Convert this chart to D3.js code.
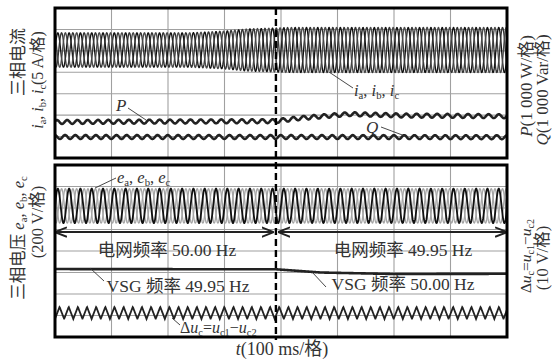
<!DOCTYPE html>
<html>
<head>
<meta charset="utf-8">
<script src="https://cdn.jsdelivr.net/npm/d3@7/dist/d3.min.js"></script>
<style>
  body { margin: 0; background: #fff; }
  text { font-family: "Liberation Serif", "Noto Sans CJK SC", serif; fill: #333; }
</style>
</head>
<body>
<svg id="chart" width="554" height="363"></svg>
<script>
// time axis: 8 divisions of 100 ms
const timeTicks = [0, 100, 200, 300, 400, 500, 600, 700, 800];
const eventTime = 391;          // grid frequency step (dashed line)
const topDivs = 7, botDivs = 8;

// envelopes, [t (ms), value in divisions]
const currentCenter = 5.04;
const currentAmp = [[0, 0.8], [240, 0.8], [300, 0.88], [340, 0.98], [420, 1.05], [800, 1.05]];
const pLevel = [[0, 1.68], [391, 1.72], [430, 1.85], [520, 2.05], [620, 1.98], [800, 1.95]];
const qLevel = [[0, 0.98], [391, 0.98], [800, 0.97]];
const ripple = 0.09;
const voltCenter = 6.1, voltAmp = 0.8;
const gridFreq = [[0, 50.00], [391, 49.95], [800, 49.95]];
const vsgFreq = [49.95, 50.00];
const vsgLevel = [[0, 3.16], [391, 3.15], [470, 3.0], [600, 2.93], [800, 2.94]];
const duCenter = 1.12, duAmp = 0.28, duPeriod = 16.2;

const svg = d3.select("#chart");
const x = d3.scaleLinear().domain([0, 800]).range([55, 507]);
const yTop = d3.scaleLinear().domain([0, topDivs]).range([158, 8]);
const yBot = d3.scaleLinear().domain([0, botDivs]).range([337, 165]);

function interp(env, t) {
  for (let i = 1; i < env.length; i++) {
    if (t <= env[i][0]) {
      const a = env[i - 1], b = env[i];
      return a[1] + (b[1] - a[1]) * (t - a[0]) / (b[0] - a[0]);
    }
  }
  return env[env.length - 1][1];
}
const times = d3.range(0, 800.01, 0.4);

// phase accumulated from the frequency table
function phaseAt(t) {
  let ph = 0, last = 0;
  for (let i = 1; i < gridFreq.length && last < t; i++) {
    const end = Math.min(t, gridFreq[i][0]);
    ph += 2 * Math.PI * gridFreq[i - 1][1] * (end - last) / 1000;
    last = end;
  }
  return ph;
}

const defs = svg.append("defs");
defs.append("clipPath").attr("id", "clipTop")
  .append("rect").attr("x", 55).attr("y", 8).attr("width", 452).attr("height", 150);
defs.append("clipPath").attr("id", "clipBot")
  .append("rect").attr("x", 55).attr("y", 165).attr("width", 452).attr("height", 172);
defs.append("marker").attr("id", "arr")
  .attr("viewBox", "0 0 10 10").attr("refX", 9).attr("refY", 5)
  .attr("markerWidth", 6).attr("markerHeight", 6).attr("orient", "auto-start-reverse")
  .append("path").attr("d", "M0,1L10,5L0,9").attr("fill", "none").attr("stroke", "#222").attr("stroke-width", 1.6);

// grid
function grid(y, divs) {
  const g = svg.append("g").attr("stroke", "#a0a0a0").attr("stroke-width", 1.1);
  g.selectAll(".v").data(timeTicks.slice(1, -1)).enter().append("line")
    .attr("x1", d => x(d)).attr("x2", d => x(d)).attr("y1", y(0)).attr("y2", y(divs));
  g.selectAll(".h").data(d3.range(1, divs)).enter().append("line")
    .attr("x1", x(0)).attr("x2", x(800)).attr("y1", d => y(d)).attr("y2", d => y(d));
}
grid(yTop, topDivs);
grid(yBot, botDivs);

// top panel traces
const gTop = svg.append("g").attr("clip-path", "url(#clipTop)").attr("fill", "none");
const phases = [0, -2 * Math.PI / 3, 2 * Math.PI / 3];
const curColors = ["#111", "#333", "#4a4a4a"];
phases.forEach((p, i) => {
  gTop.append("path")
    .attr("d", d3.line().x(t => x(t))
      .y(t => yTop(currentCenter + interp(currentAmp, t) * Math.sin(phaseAt(t) + p)))(times))
    .attr("stroke", curColors[i]).attr("stroke-width", 1.35);
});
[[pLevel, 0.4], [qLevel, 1.7]].forEach(([lev, off]) => {
  gTop.append("path")
    .attr("d", d3.line().x(t => x(t))
      .y(t => yTop(interp(lev, t) + ripple * Math.sin(phaseAt(t) * 1.1 + off)))(times))
    .attr("stroke", "#222").attr("stroke-width", 2.6);
});

// bottom panel traces
const gBot = svg.append("g").attr("clip-path", "url(#clipBot)").attr("fill", "none");
[1, 2, 0].forEach(i => {
  gBot.append("path")
    .attr("d", d3.line().x(t => x(t))
      .y(t => yBot(voltCenter + voltAmp * Math.sin(phaseAt(t) + phases[i])))(times))
    .attr("stroke", i === 0 ? "#111" : "#a5a5a5").attr("stroke-width", i === 0 ? 1.8 : 1.3);
});
gBot.append("path")
  .attr("d", d3.line().x(t => x(t)).y(t => yBot(interp(vsgLevel, t)))(times))
  .attr("stroke", "#222").attr("stroke-width", 2.6);
gBot.append("path")
  .attr("d", d3.line().x(t => x(t))
    .y(t => { const f = (t / duPeriod) % 1; return yBot(duCenter + duAmp * (f < 0.5 ? 4 * f - 1 : 3 - 4 * f)); })(times))
  .attr("stroke", "#222").attr("stroke-width", 1.8);

// double arrows for grid frequency spans
const arrowY = yBot(4.88);
[[2, eventTime - 6], [eventTime + 6, 798]].forEach(([a, b]) => {
  svg.append("line").attr("x1", x(a)).attr("x2", x(b)).attr("y1", arrowY).attr("y2", arrowY)
    .attr("stroke", "#222").attr("stroke-width", 2)
    .attr("marker-start", "url(#arr)").attr("marker-end", "url(#arr)");
});

// panel borders
[[yTop, topDivs], [yBot, botDivs]].forEach(([y, d]) => {
  svg.append("rect").attr("x", x(0)).attr("y", y(d)).attr("width", x(800) - x(0))
    .attr("height", y(0) - y(d)).attr("fill", "none").attr("stroke", "#000").attr("stroke-width", 3);
});

// event line
svg.append("line").attr("x1", x(eventTime)).attr("x2", x(eventTime)).attr("y1", 8).attr("y2", 340)
  .attr("stroke", "#000").attr("stroke-width", 2.4).attr("stroke-dasharray", "7,4");

// helpers for labels with sub-scripts
function rich(sel, parts) {
  parts.forEach(p => {
    const ts = sel.append("tspan").text(p[0]);
    if (p[1] === "i") ts.attr("font-style", "italic");
    if (p[1] === "s") ts.attr("font-size", "0.65em").attr("baseline-shift", "-25%");
  });
  return sel;
}
function leader(x1, y1, x2, y2) {
  svg.append("line").attr("x1", x1).attr("y1", y1).attr("x2", x2).attr("y2", y2)
    .attr("stroke", "#333").attr("stroke-width", 0.9);
}
const eParts = [["e", "i"], ["a", "s"], [", "], ["e", "i"], ["b", "s"], [", "], ["e", "i"], ["c", "s"]];
const iParts = [["i", "i"], ["a", "s"], [", "], ["i", "i"], ["b", "s"], [", "], ["i", "i"], ["c", "s"]];
const duParts = [["Δ"], ["u", "i"], ["c", "s"], ["="], ["u", "i"], ["c1", "s"], ["−"], ["u", "i"], ["c2", "s"]];

// annotations in panels
leader(95, 188, 116, 178);
rich(svg.append("text").attr("x", 117).attr("y", 183).attr("font-size", 16.5), eParts);
leader(329, 72, 353, 88);
rich(svg.append("text").attr("x", 354).attr("y", 96).attr("font-size", 16.5), iParts);
leader(128, 108, 146, 120);
svg.append("text").attr("x", 116).attr("y", 111).attr("font-size", 17).attr("font-style", "italic").text("P");
leader(381, 127, 405, 136);
svg.append("text").attr("x", 366).attr("y", 133).attr("font-size", 17).attr("font-style", "italic").text("Q");

svg.append("text").attr("x", 167).attr("y", 256).attr("font-size", 17.5).attr("text-anchor", "middle")
  .text(`电网频率 ${gridFreq[0][1].toFixed(2)} Hz`);
svg.append("text").attr("x", 403).attr("y", 256).attr("font-size", 17.5).attr("text-anchor", "middle")
  .text(`电网频率 ${gridFreq[1][1].toFixed(2)} Hz`);
leader(90, 268, 104, 281);
svg.append("text").attr("x", 178).attr("y", 292).attr("font-size", 17.5).attr("text-anchor", "middle")
  .text(`VSG 频率 ${vsgFreq[0].toFixed(2)} Hz`);
leader(312, 272, 326, 287);
svg.append("text").attr("x", 403).attr("y", 290).attr("font-size", 17.5).attr("text-anchor", "middle")
  .text(`VSG 频率 ${vsgFreq[1].toFixed(2)} Hz`);
leader(172, 318, 180, 325);
rich(svg.append("text").attr("x", 180).attr("y", 333).attr("font-size", 16), duParts);

// axis titles
function vtext(cx, cy, size, parts) {
  const t = svg.append("text").attr("transform", `translate(${cx},${cy}) rotate(-90)`)
    .attr("font-size", size).attr("text-anchor", "middle");
  return rich(t, parts);
}
vtext(24, 62, 17, [["三相电流"]]);
vtext(43, 80, 16, iParts.concat([["(5 A/格)"]]));
vtext(532, 86, 17, [["P", "i"], ["(1 000 W/格)"]]);
vtext(548, 90, 17, [["Q", "i"], ["(1 000 Var/格)"]]);
vtext(24, 238, 16.5, [["三相电压 "]].concat(eParts));
vtext(43, 222, 16.5, [["(200 V/格)"]]);
vtext(531, 256, 15.5, duParts);
vtext(548, 258, 16.5, [["(10 V/格)"]]);
rich(svg.append("text").attr("x", 282).attr("y", 355).attr("font-size", 18).attr("text-anchor", "middle"),
  [["t", "i"], ["(100 ms/格)"]]);
</script>
</body>
</html>
